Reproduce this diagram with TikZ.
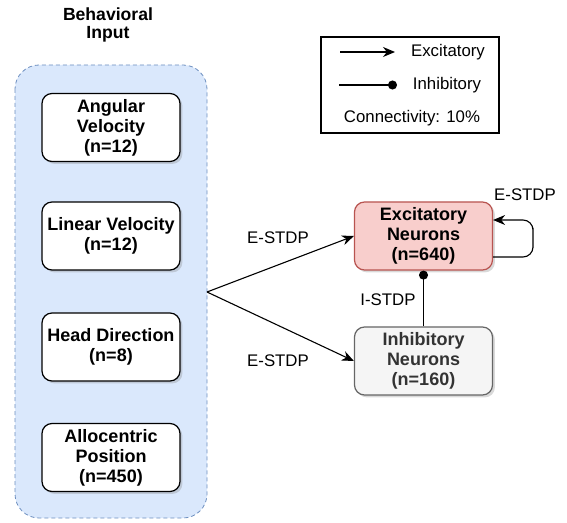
\documentclass[tikz,border=0pt]{standalone}
\usepackage{fontspec}
\setmainfont{Liberation Sans}
\usepackage{tikz}
\usetikzlibrary{arrows.meta,shadows}

\definecolor{inputfill}{HTML}{DAE8FC}
\definecolor{inputline}{HTML}{6C8EBF}
\definecolor{excfill}{HTML}{F8CECC}
\definecolor{excline}{HTML}{B85450}
\definecolor{inhfill}{HTML}{F5F5F5}
\definecolor{inhline}{HTML}{666666}
\definecolor{inhtext}{HTML}{333333}

\tikzset{
  inbox/.style={draw, fill=white, rounded corners=5pt, align=center, line width=0.6pt,
    font=\fontsize{9}{10}\selectfont\bfseries,
    minimum width=69pt, minimum height=34pt, inner sep=0pt,
    drop shadow={shadow xshift=1.2pt, shadow yshift=-1.2pt, opacity=0.3}},
  popbox/.style={inbox, draw=excline, fill=excfill},
  excarrow/.style={-{Stealth[length=6pt,width=5pt]}, line width=0.55pt},
  inharrow/.style={-{Circle[length=4.5pt]}, line width=0.55pt},
}

\begin{document}
\begin{tikzpicture}[x=0.5pt, y=-0.5pt, font=\fontsize{8.4}{10}\selectfont]
        \useasboundingbox (0,0) rectangle (567,523);
        % input group
        \node[font=\fontsize{8.8}{9}\selectfont\bfseries, align=center] (title) at (108,25) {Behavioral\\Input};
        \draw[draw=inputline, fill=inputfill, dash pattern=on 2pt off 1.5pt, rounded corners=12pt] (15,65) rectangle (207,518);
        \node[inbox] (angular) at (111,127.5) {Angular\\Velocity\\(n=12)};
        \node[inbox] (linear) at (111,236) {Linear Velocity\\(n=12)};
        \node[inbox] (head) at (111,347) {Head Direction\\(n=8)};
        \node[inbox] (allo) at (111,457.5) {Allocentric\\Position\\(n=450)};
        % populations
        \node[popbox] (exc) at (423.5,236) {Excitatory\\Neurons\\(n=640)};
        \node[popbox, draw=inhline, fill=inhfill, text=inhtext] (inh) at (423.5,361) {Inhibitory\\Neurons\\(n=160)};
        \coordinate (split) at (207,292);
        \draw[excarrow] (split) -- (exc.west);
        \node at (278,238) {E-STDP};
        \draw[excarrow] (split) -- (inh.west);
        \node at (278,361) {E-STDP};
        \draw[inharrow] (inh.north) -- (exc.south);
        \node at (388,300) {I-STDP};
        \coordinate (loop) at (533,238);
        \draw[excarrow, rounded corners=5pt] ([yshift=-10.5pt]exc.east) -| (loop) |- ([yshift=8pt]exc.east);
        \node at (525,195) {E-STDP};
        % legend
        \node[draw, line width=0.55pt, minimum width=89pt, minimum height=48pt] (legend) at (410,85) {};
        \coordinate (ea) at (340,52);
        \coordinate (eb) at (395,52);
        \draw[excarrow] (ea) -- (eb);
        \node (exctext) at (448,52) {Excitatory};
        \coordinate (ia) at (339,85);
        \coordinate (ib) at (397,85);
        \draw[inharrow] (ia) -- (ib);
        \node (inhtext) at (447,85) {Inhibitory};
        \node (conn) at (412,118) {Connectivity: 10\%};
    \end{tikzpicture}
\end{document}
